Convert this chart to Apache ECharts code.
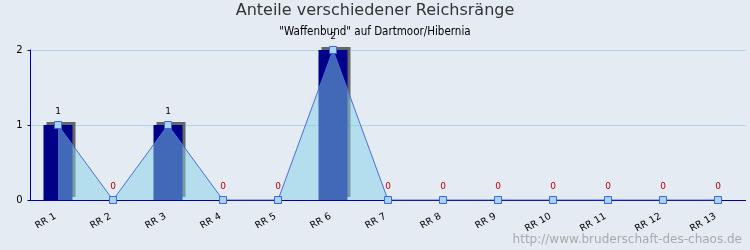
<!DOCTYPE html>
<html><head><meta charset="utf-8">
<script src="https://cdn.jsdelivr.net/npm/echarts@6/dist/echarts.min.js"></script>
<style>html,body{margin:0;padding:0;background:#e4ebf2}#c{width:750px;height:250px}</style>
</head><body><div id="c"></div>
<script>
var categories = ['RR 1','RR 2','RR 3','RR 4','RR 5','RR 6','RR 7','RR 8','RR 9','RR 10','RR 11','RR 12','RR 13'];
var values = [1,0,1,0,0,2,0,0,0,0,0,0,0];
var yTicks = [0,1,2];
var titleText = 'Anteile verschiedener Reichsränge';
var subText = '"Waffenbund" auf Dartmoor/Hibernia';
var footerText = 'http://www.bruderschaft-des-chaos.de';

var chart = echarts.init(document.getElementById('c'), null, {renderer:'canvas'});
var lineData = values.map(function(v){
  return {value: v, label: {color: v > 0 ? '#000000' : '#c00000'}};
});
chart.setOption({
  backgroundColor: '#e4ebf2',
  animation: false,
  title: [
    {text: titleText, left: 'center', top: 3, padding: 0,
     textStyle: {fontFamily: 'DejaVu Sans', fontSize: 16, fontWeight: 'normal', color: '#333'}},
    {text: subText, left: 'center', top: 26, padding: 0,
     textStyle: {fontFamily: 'DejaVu Sans Condensed', fontSize: 11.5, fontWeight: 'normal', color: '#000'}},
    {text: footerText, right: 8, bottom: 4, padding: 0,
     textStyle: {fontFamily: 'DejaVu Sans', fontSize: 12, fontWeight: 'normal', color: '#aaaaaa'}}
  ],
  grid: {left: 30.5, right: 4.5, top: 50, bottom: 50, containLabel: false},
  xAxis: {
    type: 'category', data: categories, boundaryGap: true,
    axisLine: {lineStyle: {color: '#0000a0', width: 1}},
    axisTick: {inside: true, length: 5, alignWithLabel: false, lineStyle: {color: '#0000a0'}},
    axisLabel: {rotate: 30, interval: 0, margin: 14, fontFamily: 'DejaVu Sans', fontSize: 9.5, color: '#000', padding: [0, 3, 0, 0]},
    splitLine: {show: false}
  },
  yAxis: {
    type: 'value', min: yTicks[0], max: yTicks[yTicks.length-1], interval: 1,
    axisLine: {show: true, lineStyle: {color: '#0000a0', width: 1}},
    axisTick: {show: true, length: 3, lineStyle: {color: '#0000a0'}},
    axisLabel: {margin: 8, fontFamily: 'DejaVu Sans', fontSize: 10, color: '#000'},
    splitLine: {show: true, lineStyle: {color: '#a8d8ea', width: 1}}
  },
  series: [
    {type: 'bar', data: values, barWidth: 29,
     itemStyle: {color: '#000088', shadowColor: '#666666', shadowOffsetX: 3, shadowOffsetY: -3, shadowBlur: 0}},
    {type: 'line', data: lineData, symbol: 'rect', symbolSize: 7,
     lineStyle: {color: '#4d6fd6', width: 1},
     itemStyle: {color: '#a8d4f0', borderColor: '#3f66e8', borderWidth: 1},
     areaStyle: {color: 'rgba(132,208,232,0.5)', opacity: 1, origin: 'start'},
     label: {show: true, position: 'top', distance: 5, fontFamily: 'DejaVu Sans', fontSize: 9}}
  ]
});
</script></body></html>
